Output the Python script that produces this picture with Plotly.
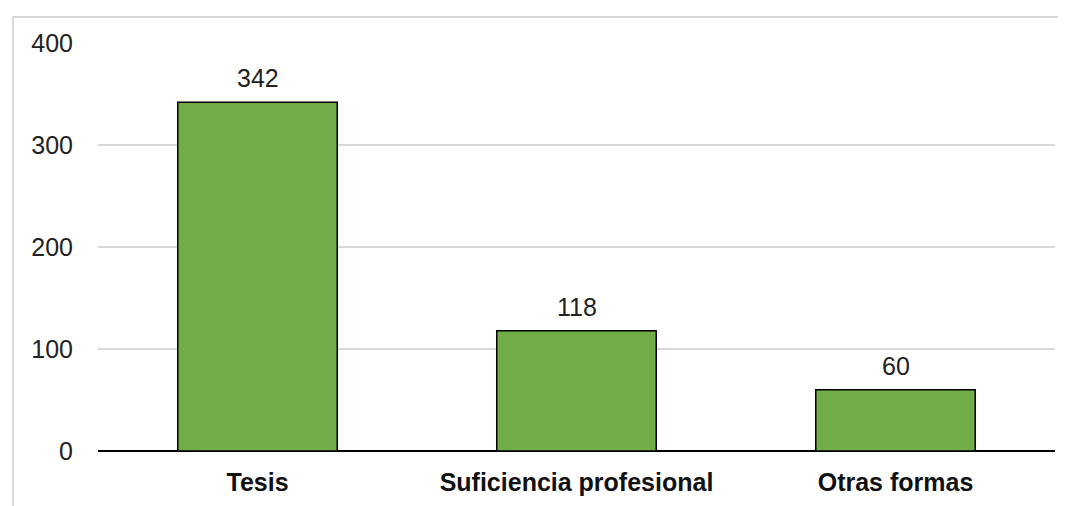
import plotly.graph_objects as go

categories = ["Tesis", "Suficiencia profesional", "Otras formas"]
values = [342, 118, 60]
y_ticks = [0, 100, 200, 300, 400]

BAR = "#70AD47"
GRID = "#D9D9D9"
FONT = "Liberation Sans, Arial, sans-serif"

fig = go.Figure(go.Bar(
    x=categories, y=values,
    marker=dict(color=BAR, line=dict(color="black", width=1.5)),
    hoverinfo="skip",
))

for c, v in zip(categories, values):
    fig.add_annotation(
        x=c, y=v, text=str(v), showarrow=False, yanchor="bottom", yshift=8,
        font=dict(family=FONT, size=25, color="#222222"), bgcolor="white",
    )

fig.add_shape(type="rect", xref="paper", yref="paper",
              x0=-0.0888, x1=1.05, y0=-0.3, y1=1.0637,
              line=dict(color=GRID, width=2), fillcolor="rgba(0,0,0,0)", layer="below")

fig.update_layout(
    width=1066, height=506,
    margin=dict(l=90, r=19, t=35, b=63),
    plot_bgcolor="white", paper_bgcolor="white",
    bargap=0.5, showlegend=False,
    font=dict(family=FONT, size=25, color="#222222"),
    xaxis=dict(showgrid=False, showline=False, ticks="", ticklabelstandoff=14,
               tickfont=dict(family=FONT, size=25, color="#111111", weight="bold")),
    yaxis=dict(range=[0, 400], tickvals=y_ticks, showgrid=True, gridcolor=GRID, gridwidth=1.5,
               zeroline=True, zerolinecolor="black", zerolinewidth=2,
               ticks="", ticklabelstandoff=24, tickfont=dict(family=FONT, size=25, color="#222222"),
               showline=False),
)

fig.write_html("out.html")
